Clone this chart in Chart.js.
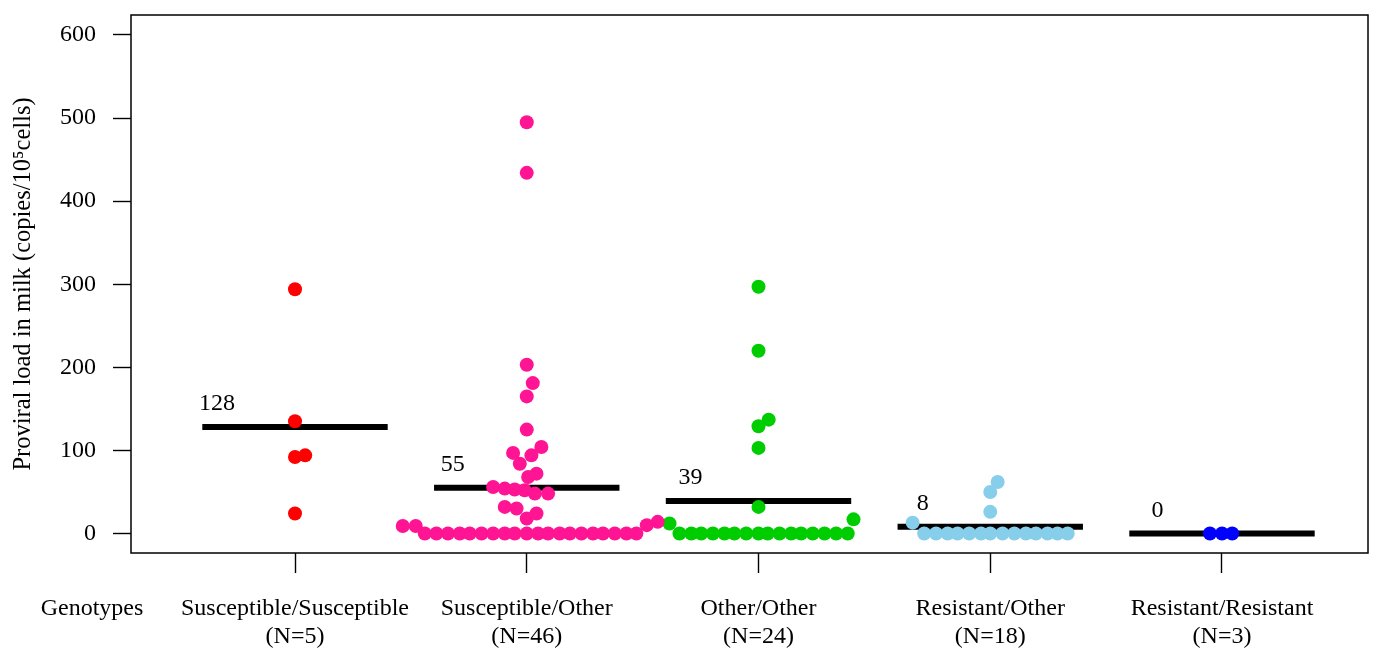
<!DOCTYPE html>
<html>
<head>
<meta charset="utf-8">
<title>Proviral load in milk by genotype</title>
<script src="https://cdn.jsdelivr.net/npm/chart.js@4.4.1/dist/chart.umd.min.js"></script>
<style>
    html, body { margin: 0; padding: 0; background: #fff; }
    #chart { display: block; }
</style>
</head>
<body>
<canvas id="chart" width="1389" height="651"></canvas>
<script>
// Genotype groups, placed at 1..5 on the x axis
const genotypes = ['Susceptible/Susceptible', 'Susceptible/Other', 'Other/Other', 'Resistant/Other', 'Resistant/Resistant'];
const groupSizes = [5, 46, 24, 18, 3];
const groupMeans = [128, 55, 39, 8, 0];
const yTicks = [0, 100, 200, 300, 400, 500, 600];

// Proviral load per animal, with its beeswarm offset from the group centre (category units)
const ssValues = [294, 135, 92, 94, 24];
const ssOffsets = [0, 0, 0, 0.044, 0];

const soValues = [495, 434, 203, 181, 165, 125,
    97, 104, 94, 84, 72, 68, 56, 54, 53, 52, 48, 48, 32, 30, 24, 18,
    9, 9, 10, 14,
    0, 0, 0, 0, 0, 0, 0, 0, 0, 0, 0, 0, 0, 0, 0, 0, 0, 0, 0, 0];
const soOffsets = [0, 0, 0, 0.026, 0, 0,
    -0.059, 0.063, 0.020, -0.030, 0.042, 0.006, -0.145, -0.095, -0.052, -0.009, 0.035, 0.092, -0.095, -0.044, 0.042, 0,
    -0.535, -0.479, 0.518, 0.565,
    -0.440, -0.390, -0.340, -0.289, -0.246, -0.195, -0.145, -0.095, -0.052, 0,
    0.049, 0.092, 0.142, 0.186, 0.236, 0.286, 0.329, 0.380, 0.430, 0.473];

const ooValues = [297, 220, 137, 129, 103, 32, 12, 17,
    0, 0, 0, 0, 0, 0, 0, 0, 0, 0, 0, 0, 0, 0, 0, 0];
const ooOffsets = [0, 0, 0.044, 0, 0, 0, -0.384, 0.410,
    -0.341, -0.290, -0.247, -0.197, -0.147, -0.104, -0.053, 0,
    0.040, 0.091, 0.141, 0.184, 0.234, 0.285, 0.335, 0.385];

const roValues = [62, 50, 26, 13,
    0, 0, 0, 0, 0, 0, 0, 0, 0, 0, 0, 0, 0, 0];
const roOffsets = [0.032, 0, 0, -0.335,
    -0.285, -0.234, -0.184, -0.141, -0.091, -0.040, 0,
    0.053, 0.104, 0.154, 0.197, 0.247, 0.290, 0.334];

const rrValues = [0, 0, 0];
const rrOffsets = [-0.052, 0, 0.044];

const groupValues = [ssValues, soValues, ooValues, roValues, rrValues];
const groupOffsets = [ssOffsets, soOffsets, ooOffsets, roOffsets, rrOffsets];
const groupColors = ['#ff0000', '#ff1493', '#00cd00', '#87ceeb', '#0000ff'];

const serif = "'Liberation Serif', 'Times New Roman', serif";
const fontSize = 24;
const xTickLength = 20;
const xTickPadding = 21;
const lineHeight = 1.2;
// where each mean label sits, relative to the group centre
const meanLabelShift = [-0.337, -0.319, -0.293, -0.291, -0.278];

// points for each genotype
const pointSets = groupValues.map((vals, g) => ({
    type: 'scatter',
    label: genotypes[g],
    data: vals.map((v, k) => ({ x: g + 1 + groupOffsets[g][k], y: v })),
    backgroundColor: groupColors[g],
    borderWidth: 0,
    pointRadius: 7,
    order: 0
}));

// mean bars
const meanSets = groupMeans.map((m, g) => ({
    type: 'line',
    label: 'mean ' + genotypes[g],
    data: [{ x: g + 1 - 0.4, y: m }, { x: g + 1 + 0.4, y: m }],
    borderColor: '#000',
    borderWidth: 6,
    pointRadius: 0,
    order: 1
}));

// frame, mean labels and the "Genotypes" caption
const extras = {
    id: 'extras',
    beforeDraw(chart) {
        const ctx = chart.ctx;
        ctx.save();
        ctx.fillStyle = '#fff';
        ctx.fillRect(0, 0, chart.width, chart.height);
        ctx.restore();
    },
    afterDraw(chart) {
        const ctx = chart.ctx;
        const area = chart.chartArea;
        const xs = chart.scales.x;
        const ys = chart.scales.y;
        ctx.save();
        ctx.strokeStyle = '#000';
        ctx.lineWidth = 1.5;
        ctx.strokeRect(area.left, area.top, area.right - area.left, area.bottom - area.top);

        ctx.fillStyle = '#000';
        ctx.font = fontSize + 'px ' + serif;
        ctx.textAlign = 'center';
        ctx.textBaseline = 'middle';
        groupMeans.forEach((m, g) => {
            ctx.fillText(String(m), xs.getPixelForValue(g + 1 + meanLabelShift[g]), ys.getPixelForValue(m) - 23);
        });

        const labelY = area.bottom + xTickLength + xTickPadding + fontSize * lineHeight / 2;
        ctx.fillText('Genotypes', 92, labelY);
        ctx.restore();
    }
};

new Chart(document.getElementById('chart'), {
    type: 'scatter',
    data: { datasets: pointSets.concat(meanSets) },
    options: {
        responsive: false,
        animation: false,
        layout: { padding: { left: 0, top: 15, right: 21, bottom: 0 } },
        plugins: {
            legend: { display: false },
            tooltip: { enabled: false }
        },
        scales: {
            x: {
                type: 'linear',
                bounds: 'data',
                min: 0.2923,
                max: 5.63,
                afterBuildTicks: s => { s.ticks = genotypes.map((g, i) => ({ value: i + 1 })); },
                afterFit: s => { s.height = 98; s.paddingLeft = 0; s.paddingRight = 0; },
                grid: { drawOnChartArea: false, drawTicks: true, tickLength: xTickLength, tickColor: '#000', tickWidth: 1.4 },
                border: { display: false },
                ticks: {
                    color: '#000',
                    autoSkip: false,
                    maxRotation: 0,
                    padding: xTickPadding,
                    font: { family: serif, size: fontSize, lineHeight: lineHeight },
                    callback: v => [genotypes[v - 1], '(N=' + groupSizes[v - 1] + ')']
                }
            },
            y: {
                type: 'linear',
                bounds: 'data',
                min: -23.5,
                max: 624,
                afterBuildTicks: s => { s.ticks = yTicks.map(v => ({ value: v })); },
                afterFit: s => { s.width = 131; s.paddingTop = 0; s.paddingBottom = 0; },
                grid: { drawOnChartArea: false, drawTicks: true, tickLength: 18, tickColor: '#000', tickWidth: 1.4 },
                border: { display: false },
                ticks: {
                    color: '#000',
                    padding: 17,
                    font: { family: serif, size: fontSize }
                },
                title: {
                    display: true,
                    text: 'Proviral load in milk (copies/10\u2075cells)',
                    color: '#000',
                    padding: { top: 9, bottom: 0 },
                    font: { family: serif, size: 24.5 }
                }
            }
        }
    },
    plugins: [extras]
});
</script>
</body>
</html>
